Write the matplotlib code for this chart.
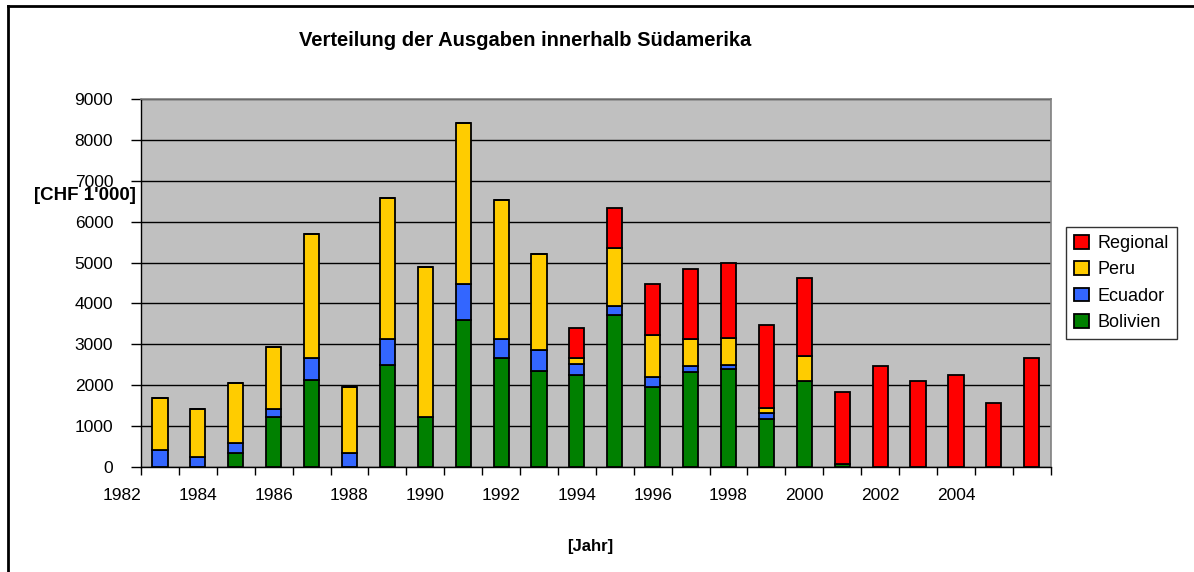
import matplotlib.pyplot as plt
import numpy as np
from matplotlib.lines import Line2D
from matplotlib.transforms import blended_transform_factory

plt.rcParams['font.family'] = ['Liberation Sans', 'DejaVu Sans']

years = list(range(1983, 2007))
bolivien = [0, 0, 340, 1210, 2120, 0, 2490, 1210, 3600, 2660, 2350, 2255,
            3710, 1960, 2320, 2390, 1175, 2090, 60, 0, 0, 0, 0, 0]
ecuador = [410, 230, 230, 200, 550, 340, 650, 0, 875, 475, 510, 260,
           235, 245, 150, 100, 130, 20, 0, 0, 0, 0, 0, 0]
peru = [1265, 1183, 1490, 1530, 3020, 1620, 3440, 3670, 3945, 3400, 2360, 155,
        1415, 1030, 670, 670, 140, 600, 0, 0, 0, 0, 0, 0]
regional = [0, 0, 0, 0, 0, 0, 0, 0, 0, 0, 0, 730,
            980, 1250, 1715, 1830, 2025, 1905, 1770, 2467, 2091, 2255, 1552, 2672]
year_labels = list(range(1982, 2005, 2))

series = {
    "Bolivien": (bolivien, "#008000"),
    "Ecuador": (ecuador, "#3366FF"),
    "Peru": (peru, "#FFCC00"),
    "Regional": (regional, "#FF0000"),
}

fig = plt.figure(figsize=(11.94, 5.72), dpi=100)
ax = fig.add_axes([0.1181, 0.1841, 0.7619, 0.6423])
ax.set_facecolor("#C0C0C0")

x = np.array(years)
bottom = np.zeros(len(years))
handles = {}
for name, (vals, color) in series.items():
    vals = np.array(vals, dtype=float)
    h = ax.bar(x, vals, 0.4, bottom=bottom, color=color, edgecolor="black",
               linewidth=1.3, label=name, zorder=3)
    handles[name] = h
    bottom += vals

ax.set_xlim(1982.5, 2006.5)
ax.set_ylim(0, 9000)
ax.set_yticks(range(0, 9001, 1000))
ax.tick_params(axis='y', labelsize=12.5, length=7, width=1, pad=13)
ax.yaxis.grid(True, color="black", linewidth=1, zorder=1)
ax.set_axisbelow(True)

ax.set_xticks(np.arange(1982.5, 2007, 1))
ax.set_xticklabels([])
ax.tick_params(axis='x', length=6, width=1)
trans = blended_transform_factory(ax.transData, ax.transAxes)
for yr in year_labels:
    ax.text(yr, -0.058, str(yr), transform=trans, ha='center', va='top',
            fontsize=12.5, clip_on=False)

for side in ['top', 'right']:
    ax.spines[side].set_color("#808080")
    ax.spines[side].set_linewidth(1.2)
for side in ['left', 'bottom']:
    ax.spines[side].set_color("black")
    ax.spines[side].set_linewidth(1)

fig.text(0.44, 0.93, "Verteilung der Ausgaben innerhalb Südamerika",
         ha='center', va='center', fontsize=14.5, fontweight='bold')
fig.text(0.071, 0.659, "[CHF 1'000]", ha='center', va='center',
         fontsize=13.5, fontweight='bold')
fig.text(0.494, 0.045, "[Jahr]", ha='center', va='center',
         fontsize=12, fontweight='bold')

order = ["Regional", "Peru", "Ecuador", "Bolivien"]
leg = ax.legend([handles[n] for n in order], order, loc='center left',
                bbox_to_anchor=(1.017, 0.5), fontsize=13, frameon=True,
                fancybox=False, edgecolor="black", handlelength=0.8,
                handleheight=0.8, handletextpad=0.5, labelspacing=0.5,
                borderpad=0.45, borderaxespad=0)
leg.get_frame().set_linewidth(1)

# outer frame of the chart area
fig.add_artist(Line2D([8 / 1194, 8 / 1194], [0, 1 - 6 / 572], color="black",
                      linewidth=2, transform=fig.transFigure))
fig.add_artist(Line2D([8 / 1194, 1], [1 - 6 / 572, 1 - 6 / 572], color="black",
                      linewidth=2, transform=fig.transFigure))

fig.savefig("out.png", dpi=100)
